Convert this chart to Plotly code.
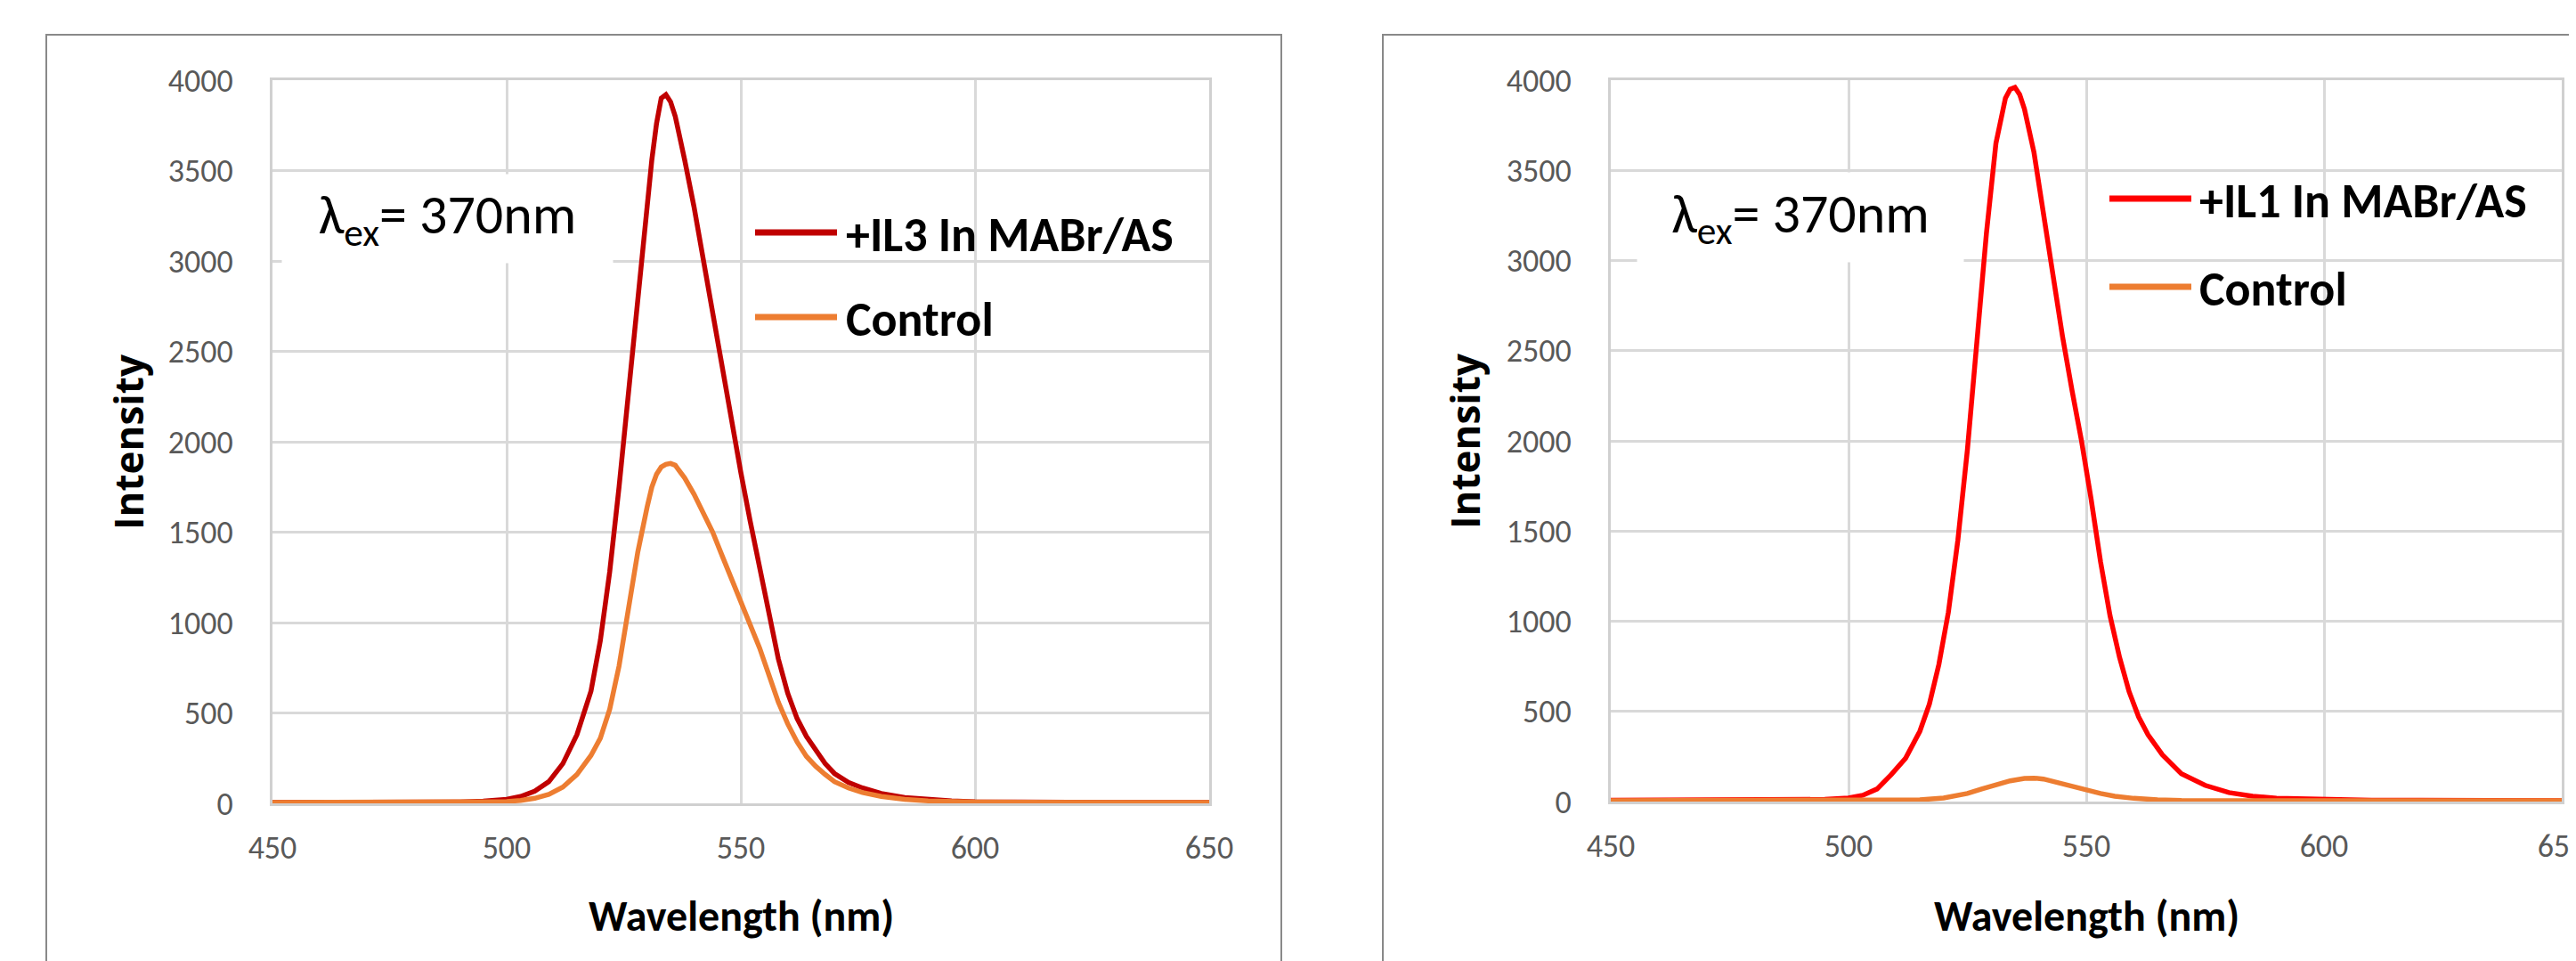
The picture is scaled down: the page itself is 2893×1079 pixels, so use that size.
import plotly.graph_objects as go

W, H = 2893, 1079

# ---------------- data ----------------
wl_il3 = [450, 460, 470, 480, 490, 495, 500, 503, 506, 509, 512, 515, 518, 520, 522, 524, 526, 528,
          530, 531, 532, 533, 534, 535, 536, 537, 538, 540, 542, 544, 546, 548, 550, 552, 554, 556,
          558, 560, 562, 564, 566, 568, 570, 573, 576, 580, 585, 590, 595, 600, 610, 620, 630, 640, 650]
int_il3 = [5, 5, 5, 6, 8, 12, 22, 38, 68, 120, 220, 380, 620, 900, 1280, 1750, 2280, 2820,
           3300, 3560, 3760, 3900, 3920, 3880, 3800, 3690, 3560, 3300, 3000, 2700, 2400, 2100, 1830, 1560, 1300, 1040,
           800, 610, 470, 370, 290, 220, 165, 115, 85, 55, 32, 20, 13, 9, 6, 5, 5, 5, 5]

wl_ctrl_a = [450, 460, 470, 480, 490, 495, 500, 503, 506, 509, 512, 515, 518, 520, 522, 524, 526, 528,
             530, 531, 532, 533, 534, 535, 536, 537, 538, 540, 542, 544, 546, 548, 550, 552, 554, 556,
             558, 560, 562, 564, 566, 568, 570, 573, 576, 580, 585, 590, 595, 600, 610, 620, 630, 640, 650]
int_ctrl_a = [5, 5, 5, 5, 5, 6, 10, 16, 28, 50, 90, 160, 265, 360, 520, 760, 1060, 1390,
              1640, 1750, 1820, 1860, 1875, 1880, 1870, 1840, 1800, 1710, 1610, 1500, 1370, 1240, 1110, 980, 860, 710,
              560, 440, 340, 260, 205, 160, 120, 85, 60, 38, 22, 14, 10, 8, 6, 5, 5, 5, 5]

wl_il1 = [450, 460, 470, 480, 490, 495, 500, 503, 506, 509, 512, 515, 517, 519, 521, 523, 525, 527,
          529, 531, 533, 534, 535, 536, 537, 539, 541, 543, 545, 547, 549, 551, 553, 555, 557, 559,
          561, 563, 566, 570, 575, 580, 585, 590, 600, 610, 620, 630, 640, 650]
int_il1 = [8, 8, 8, 8, 9, 12, 20, 35, 70, 150, 240, 390, 540, 760, 1050, 1450, 1950, 2550,
           3150, 3650, 3900, 3950, 3960, 3920, 3840, 3600, 3250, 2900, 2580, 2280, 2000, 1680, 1330, 1030, 800, 610,
           470, 370, 260, 155, 90, 50, 30, 18, 10, 8, 7, 6, 6, 5]

wl_ctrl_b = [450, 470, 490, 500, 510, 515, 520, 525, 528, 531, 534, 537, 539, 541, 544, 547, 550, 553,
             556, 560, 565, 570, 580, 600, 620, 650]
int_ctrl_b = [5, 5, 5, 5, 6, 10, 20, 45, 70, 95, 115, 128, 130, 125, 105, 85, 60, 45,
              30, 18, 10, 6, 5, 5, 5, 5]

x_ticks = [450, 500, 550, 600, 650]
y_ticks = [0, 500, 1000, 1500, 2000, 2500, 3000, 3500, 4000]

names_left = ["+IL3 In MABr/AS", "Control"]
names_right = ["+IL1 In MABr/AS", "Control"]
col_il3, col_ctrl, col_il1 = "#C00000", "#ED7D31", "#FF0000"

FONT = "Calibri, Carlito, Lato, sans-serif"
TICKFONT = dict(family=FONT, size=36, color="#595959")


def px(x):
    return x / W


def py(y):
    return 1 - y / H


fig = go.Figure()
fig.add_trace(go.Scatter(x=wl_il3, y=int_il3, mode="lines", name=names_left[0],
                         line=dict(color=col_il3, width=5.5), xaxis="x", yaxis="y", showlegend=False))
fig.add_trace(go.Scatter(x=wl_ctrl_a, y=int_ctrl_a, mode="lines", name=names_left[1],
                         line=dict(color=col_ctrl, width=5.5), xaxis="x", yaxis="y", showlegend=False))
fig.add_trace(go.Scatter(x=wl_il1, y=int_il1, mode="lines", name=names_right[0],
                         line=dict(color=col_il1, width=5.5), xaxis="x2", yaxis="y2", showlegend=False))
fig.add_trace(go.Scatter(x=wl_ctrl_b, y=int_ctrl_b, mode="lines", name=names_right[1],
                         line=dict(color=col_ctrl, width=5.5), xaxis="x2", yaxis="y2", showlegend=False))

axis_common = dict(showgrid=True, gridcolor="#D9D9D9", gridwidth=3, zeroline=False,
                   showline=True, linecolor="#D0D0D0", linewidth=3, mirror=True,
                   ticks="", tickfont=TICKFONT, automargin=False)

fig.update_layout(
    width=W, height=H, margin=dict(l=0, r=0, t=0, b=0, pad=0, autoexpand=False),
    paper_bgcolor="white", plot_bgcolor="white", showlegend=False,
    xaxis=dict(domain=[px(298), px(1350)], range=[450, 650], tickvals=x_ticks, anchor="y",
               ticklabelstandoff=16, ticklabeloverflow="allow", **axis_common),
    yaxis=dict(domain=[py(894), py(82)], range=[0, 4000], tickvals=y_ticks, anchor="x",
               ticklabelstandoff=34, **axis_common),
    xaxis2=dict(domain=[px(1801), px(2869)], range=[450, 650], tickvals=x_ticks, anchor="y2",
                ticklabelstandoff=16, ticklabeloverflow="allow", **axis_common),
    yaxis2=dict(domain=[py(892), py(82)], range=[0, 4000], tickvals=y_ticks, anchor="x2",
                ticklabelstandoff=34, **axis_common),
)

shapes = []
annotations = []

# outer chart borders
shapes.append(dict(type="rect", xref="paper", yref="paper", x0=px(44), x1=px(1431), y0=-0.1, y1=py(31),
                   line=dict(color="#898989", width=2), fillcolor="rgba(0,0,0,0)", layer="below"))
shapes.append(dict(type="rect", xref="paper", yref="paper", x0=px(1545), x1=1.1, y0=-0.1, y1=py(31),
                   line=dict(color="#898989", width=2), fillcolor="rgba(0,0,0,0)", layer="below"))


def panel(box, lines_y, line_x, text_x, names, colors, lam_box, title_x_c, title_y_c):
    bx0, bx1, by0, by1 = box
    shapes.append(dict(type="rect", xref="paper", yref="paper", x0=px(bx0), x1=px(bx1),
                       y0=py(by1), y1=py(by0), line=dict(width=0), fillcolor="white", layer="between"))
    for ly, nm, c in zip(lines_y, names, colors):
        shapes.append(dict(type="line", xref="paper", yref="paper", x0=px(line_x[0]), x1=px(line_x[1]),
                           y0=py(ly), y1=py(ly), line=dict(color=c, width=7), layer="above"))
        annotations.append(dict(xref="paper", yref="paper", x=px(text_x), y=py(ly + 3), text=nm,
                                showarrow=False, xanchor="left", yanchor="middle",
                                font=dict(family=FONT, size=54, color="black", weight="bold")))
    lx0, lx1, ly0, ly1 = lam_box
    annotations.append(dict(xref="paper", yref="paper", x=px((lx0 + lx1) / 2), y=py((ly0 + ly1) / 2),
                            text="λ<sub>ex</sub>= 370nm", showarrow=False, xanchor="center", yanchor="middle",
                            width=lx1 - lx0, height=ly1 - ly0, bgcolor="white", align="center", valign="middle",
                            font=dict(family=FONT, size=62, color="black")))
    # axis titles
    annotations.append(dict(xref="paper", yref="paper", x=px(title_y_c[0]), y=py(title_y_c[1]),
                            text="Intensity", textangle=-90, showarrow=False,
                            xanchor="center", yanchor="middle",
                            font=dict(family="Open Sans, sans-serif", size=44, color="black", weight="bold")))
    annotations.append(dict(xref="paper", yref="paper", x=px(title_x_c[0]), y=py(title_x_c[1]),
                            text="Wavelength (nm)", showarrow=False, xanchor="center", yanchor="middle",
                            font=dict(family=FONT, size=48, color="black", weight="bold")))


panel((815, 1338, 208, 393), [253, 348], (840, 932), 940, names_left, [col_il3, col_ctrl],
      (310, 679, 189, 286), (824, 1020), (136, 488))
panel((2346, 2860, 165, 365), [215, 314], (2361, 2453), 2460, names_right, [col_il1, col_ctrl],
      (1832, 2196, 187, 285), (2335, 1020), (1637, 487))

fig.update_layout(shapes=shapes, annotations=annotations)
fig.write_html("out.html")
